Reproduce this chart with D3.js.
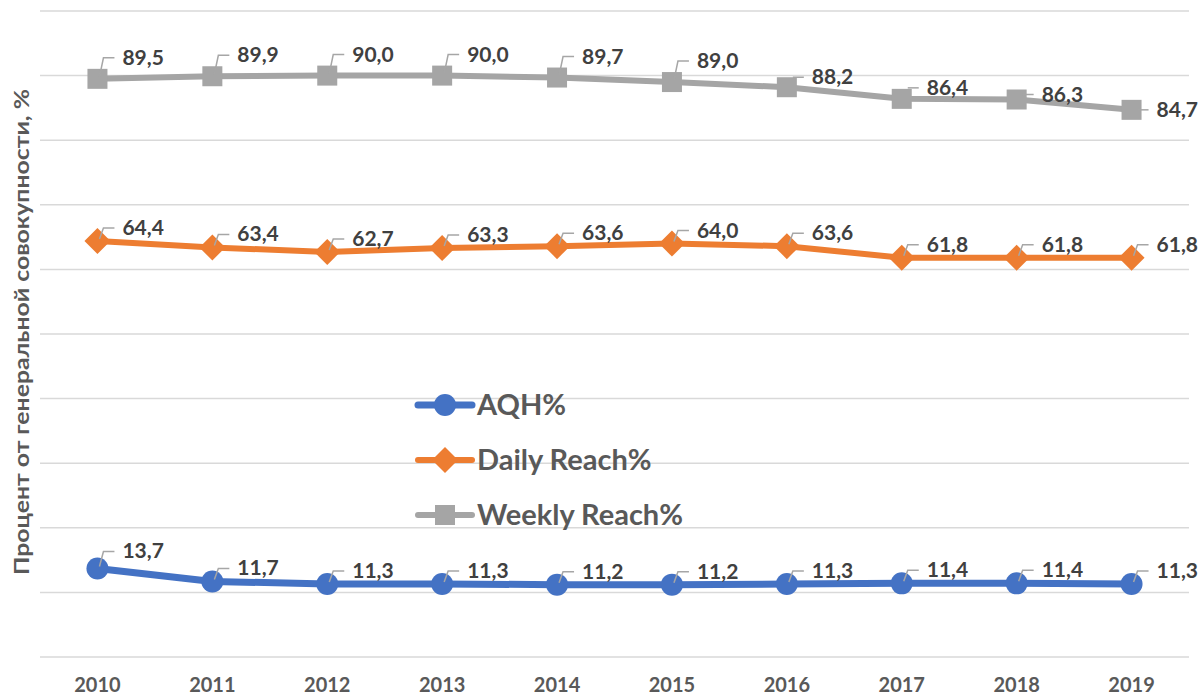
<!DOCTYPE html>
<html>
<head>
<meta charset="utf-8">
<script src="https://cdn.jsdelivr.net/npm/d3@7"></script>
<style>
  body { margin: 0; background: #fff; }
  svg text { font-family: Lato, "Open Sans", sans-serif; font-weight: bold; }
</style>
</head>
<body>
<div id="chart"></div>
<script>
// data
const years = ["2010","2011","2012","2013","2014","2015","2016","2017","2018","2019"]
const aqh = [13.7, 11.7, 11.3, 11.3, 11.2, 11.2, 11.3, 11.4, 11.4, 11.3]
const dailyReach = [64.4, 63.4, 62.7, 63.3, 63.6, 64.0, 63.6, 61.8, 61.8, 61.8]
const weeklyReach = [89.5, 89.9, 90.0, 90.0, 89.7, 89.0, 88.2, 86.4, 86.3, 84.7]
const seriesNames = ["AQH%", "Daily Reach%", "Weekly Reach%"]
const yTicks = [0, 10, 20, 30, 40, 50, 60, 70, 80, 90, 100]

var width = 1201,
    height = 697

var svg = d3.select("#chart").append("svg")
    .attr("width", width)
    .attr("height", height)

var x = d3.scaleBand().domain(years).range([40, 1189])
var y = d3.scaleLinear().domain([0, 100]).range([657, 11])

// gridlines
svg.append("g")
  .selectAll("line")
  .data(yTicks)
  .enter().append("line")
    .attr("x1", 40).attr("x2", 1189)
    .attr("y1", d => y(d)).attr("y2", d => y(d))
    .attr("stroke", "#d9d9d9")
    .attr("stroke-width", 1.5)

// x axis labels
svg.append("g")
  .selectAll("text")
  .data(years)
  .enter().append("text")
    .attr("x", d => x(d) + x.bandwidth() / 2)
    .attr("y", 692)
    .attr("text-anchor", "middle")
    .attr("fill", "#595959")
    .style("font-size", "20px")
    .text(d => d)

// y title
svg.append("text")
  .attr("transform", "translate(29,332) rotate(-90)")
  .attr("text-anchor", "middle")
  .attr("fill", "#595959")
  .style("font-size", "21px")
  .attr("textLength", 486)
  .attr("lengthAdjust", "spacingAndGlyphs")
  .text("Процент от генеральной совокупности, %")

const series = [
  { name: seriesNames[0], values: aqh, color: "#4472c4", marker: "circle", width: 7 },
  { name: seriesNames[1], values: dailyReach, color: "#ed7d31", marker: "diamond", width: 6 },
  { name: seriesNames[2], values: weeklyReach, color: "#a5a5a5", marker: "square", width: 6 }
]

const cx = (d, i) => x(years[i]) + x.bandwidth() / 2

function drawMarker(g, type, color) {
  if (type == "circle") {
    g.append("circle").attr("r", 11).attr("fill", color)
  } else if (type == "diamond") {
    g.append("path").attr("d", "M0,-13L13,0L0,13L-13,0Z").attr("fill", color)
  } else {
    g.append("rect").attr("x", -10).attr("y", -10).attr("width", 20).attr("height", 20).attr("fill", color)
  }
}

// label vertical offset, gray labels at the right sit lower
function labelDy(s, i) {
  if (s.marker == "square") {
    return [-21, -21, -21, -21, -21, -21, -10, -11, -5, 0][i]
  }
  if (s.marker == "circle" && i == 0) return -17
  return -13
}

const line = d3.line()
  .x((d, i) => cx(d, i))
  .y(d => y(d))

series.forEach(s => {
  svg.append("path")
    .datum(s.values)
    .attr("d", line)
    .attr("fill", "none")
    .attr("stroke", s.color)
    .attr("stroke-width", s.width)
    .attr("stroke-linejoin", "round")

  s.values.forEach((v, i) => {
    var g = svg.append("g").attr("transform", "translate(" + cx(v, i) + "," + y(v) + ")")
    drawMarker(g, s.marker, s.color)
  })
})

// data labels with leader lines
series.forEach(s => {
  s.values.forEach((v, i) => {
    var px = cx(v, i), py = y(v)
    var dy = labelDy(s, i)
    var pts
    if (dy <= -12) {
      pts = [[px + 2, py - 2], [px + 6, py + dy], [px + 17, py + dy]]
    } else {
      pts = [[px + 6, py + dy], [px + 17, py + dy]]
    }
    svg.append("path")
      .attr("d", d3.line()(pts))
      .attr("fill", "none")
      .attr("stroke", "#a6a6a6")
      .attr("stroke-width", 1.5)
    svg.append("text")
      .attr("x", px + 25)
      .attr("y", py + dy + 7)
      .attr("fill", "#404040")
      .style("font-size", "21px")
      .text(v.toFixed(1).replace(".", ","))
  })
})

// legend
var legend = svg.append("g")
series.forEach((s, i) => {
  var ly = 405 + i * 55
  legend.append("line")
    .attr("x1", 418).attr("x2", 472)
    .attr("y1", ly).attr("y2", ly)
    .attr("stroke", s.color)
    .attr("stroke-width", s.width)
    .attr("stroke-linecap", "round")
  var g = legend.append("g").attr("transform", "translate(445," + ly + ")")
  drawMarker(g, s.marker, s.color)
  legend.append("text")
    .attr("x", 477)
    .attr("y", ly + 10)
    .attr("fill", "#595959")
    .style("font-size", "29px")
    .text(s.name)
})
</script>
</body>
</html>
